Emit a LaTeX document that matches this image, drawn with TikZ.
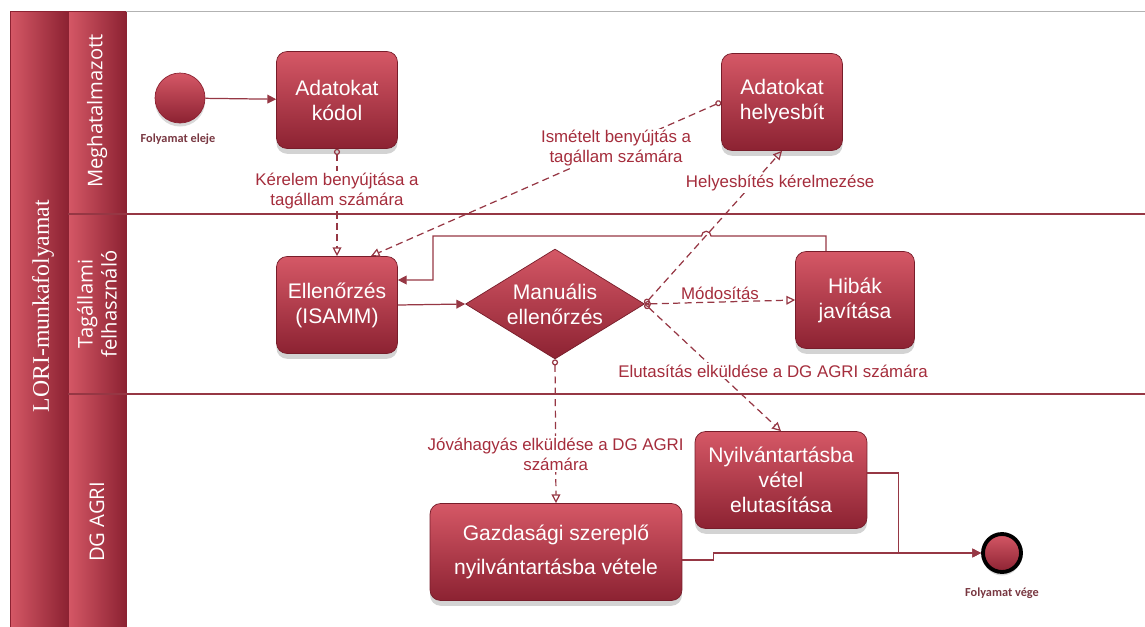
\documentclass[tikz,border=0pt]{standalone}
\usepackage{fontspec}
\setmainfont{Liberation Sans}
\newfontfamily\poolfont{Liberation Serif}
\newfontfamily\lanefont{Open Sans}
\newfontfamily\eventfont{Carlito}
\usepackage{xcolor}
\usepackage{tikz}
\usetikzlibrary{arrows.meta, calc, shadows, shapes.geometric}
\definecolor{loriLight}{RGB}{213,88,102}
\definecolor{loriDark}{RGB}{140,34,50}
\definecolor{loriLine}{RGB}{150,55,68}
\definecolor{loriText}{RGB}{165,45,60}
\definecolor{loriEvent}{RGB}{120,55,65}
\tikzset{
  task/.style={rounded corners=6pt, draw=loriDark!85!black, thin, top color=loriLight, bottom color=loriDark,
    text=white, font=\fontsize{12}{14.2}\selectfont, align=center, minimum width=2.42cm, minimum height=1.94cm,
    drop shadow={shadow xshift=0pt, shadow yshift=-3pt, opacity=.35}},
  gateway/.style={diamond, aspect=1.63, inner sep=0pt, draw=loriDark!85!black, thin, top color=loriLight,
    bottom color=loriDark, text=white, font=\fontsize{12}{14.2}\selectfont, align=center,
    minimum width=3.58cm, minimum height=2.2cm},
  startev/.style={circle, minimum size=1cm, draw=loriDark, thin, top color=loriLight, bottom color=loriDark,
    drop shadow={shadow xshift=0pt, shadow yshift=-2pt, opacity=.3}},
  endev/.style={circle, minimum size=0.76cm, draw=black, line width=2.2pt, top color=loriLight,
    bottom color=loriDark, drop shadow={shadow xshift=0pt, shadow yshift=-2pt, opacity=.3}},
  evlabel/.style={text=loriEvent, font=\eventfont\bfseries\fontsize{7}{8}\selectfont},
  lanehead/.style={draw=loriDark, thin, left color=loriLight, right color=loriDark},
  lanetext/.style={rotate=90, text=white, align=center, font=\lanefont\fontsize{11.5}{13.6}\selectfont},
  laneline/.style={draw=loriLine, line width=0.9pt},
  flow/.style={draw=loriLine, line width=0.7pt, -{Triangle[length=5pt,width=5pt]}},
  msg/.style={draw=loriLine, line width=0.7pt, dash pattern=on 4pt off 2.5pt,
    {Circle[open,length=3.5pt]}-{Triangle[open,length=5pt,width=5pt]}},
  msglabel/.style={text=loriText, font=\fontsize{9.6}{11.4}\selectfont, align=center, fill=white, inner sep=1pt}
}
\begin{document}
\begin{tikzpicture}[x=0.02cm, y=-0.02cm]
  \useasboundingbox (0,0) rectangle (1145,626);
  % pool and lanes
  \shade[lanehead] (10,11) rectangle (68,640);
  \shade[lanehead] (68,11) rectangle (126,214);
  \shade[lanehead] (68,214) rectangle (126,394);
  \shade[lanehead] (68,394) rectangle (126,640);
  \draw[gray!60, thin] (126,11) -- (1145,11);
  \draw[laneline] (68,214) -- (1145,214);
  \draw[laneline] (68,394) -- (1145,394);
  \node[rotate=90, text=white, font=\poolfont\fontsize{13.5}{15}\selectfont] (pool) at (43,306) {LORI-munkafolyamat};
  \node[lanetext] (laneMeg) at (97,111) {Meghatalmazott};
  \node[lanetext] (laneTag) at (97,304) {Tagállami\\felhasználó};
  \node[lanetext] (laneDG) at (97,522) {DG AGRI};

  \node[startev] (start) at (180,98) {};
  \node[evlabel] (startlbl) at (178,139) {Folyamat eleje};
  \node[task] (kodol) at (337,100) {Adatokat\\kódol};
  \node[task] (helyes) at (782,102) {Adatokat\\helyesbít};
  \node[task] (ellen) at (337,305) {Ellenőrzés\\(ISAMM)};
  \node[gateway] (manual) at (555,304) {Manuális\\ellenőrzés};
  \node[task, minimum width=2.38cm] (hibak) at (855,300) {Hibák\\javítása};
  \node[task, minimum width=3.44cm] (elut) at (781,480) {Nyilvántartásba\\vétel\\elutasítása};
  \node[task, minimum width=5.04cm] (gazd) at (556,552) {Gazdasági szereplő\\[5pt]nyilvántartásba vétele};
  \node[endev] (vege) at (1002,553) {};
  \node[evlabel] (vegelbl) at (1002,593) {Folyamat vége};

  \draw[flow] (start) -- (kodol);
  \draw[msg] (kodol.south) -- node[msglabel, pos=0.39] {Kérelem benyújtása a\\tagállam számára} (ellen.north);
  \draw[msg] (helyes.west) -- node[msglabel, pos=0.3] {Ismételt benyújtás a\\tagállam számára} ([xshift=-0.54cm]ellen.north east);
  \draw[msg] (manual.east) -- node[msglabel, pos=0.79, xshift=0.54cm] {Helyesbítés kérelmezése} (helyes.south);
  \draw[msg] (manual.east) -- node[msglabel, above, fill=none] {Módosítás} (hibak.west);
  \draw[msg] (manual.east) -- node[msglabel, pos=0.53, xshift=1.12cm] {Elutasítás elküldése a DG AGRI számára} (elut.north);
  \draw[msg] (manual.south) -- node[msglabel, pos=0.66] {Jóváhagyás elküldése a DG AGRI\\számára} (gazd.north);
  \draw[flow] (ellen.east) -- (manual.west);
  \draw[flow] ([xshift=-0.58cm]hibak.north) |- (711,236) arc[start angle=0, end angle=180, radius=2.7pt] -| (433,280) -- ([yshift=0.5cm]ellen.east);
  \draw[flow] ([yshift=-0.16cm]gazd.east) -- ++(31,0) |- (vege.west);
  \draw[flow] ([yshift=0.14cm]elut.east) -- ++(31,0) |- (vege.west);
\end{tikzpicture}
\end{document}
